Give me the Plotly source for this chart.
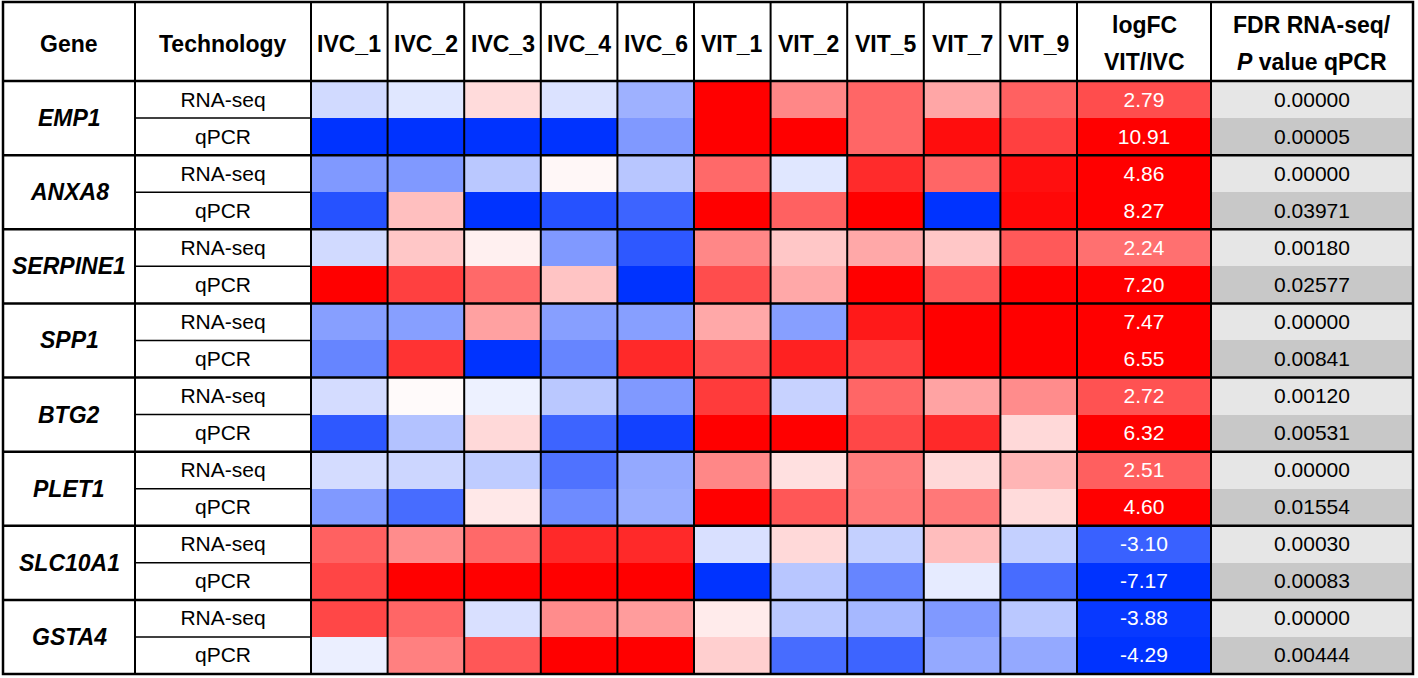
import plotly.graph_objects as go

# ---------------- data ----------------
genes = ["EMP1", "ANXA8", "SERPINE1", "SPP1", "BTG2", "PLET1", "SLC10A1", "GSTA4"]
technologies = ["RNA-seq", "qPCR"]
samples = ["IVC_1", "IVC_2", "IVC_3", "IVC_4", "IVC_6",
           "VIT_1", "VIT_2", "VIT_5", "VIT_7", "VIT_9"]

# relative (scaled) expression per sample, rows = [RNA-seq, qPCR]
EMP1 = [[-0.18, -0.12, 0.14, -0.14, -0.38, 1.00, 0.47, 0.60, 0.35, 0.62],
        [-1.00, -1.00, -1.00, -1.00, -0.50, 1.00, 1.00, 0.60, 0.95, 0.75]]
ANXA8 = [[-0.50, -0.50, -0.27, 0.03, -0.28, 0.59, -0.12, 0.83, 0.60, 0.94],
         [-0.85, 0.25, -1.00, -0.85, -0.76, 1.00, 0.62, 1.00, -1.00, 0.97]]
SERPINE1 = [[-0.18, 0.22, 0.06, -0.50, -0.82, 0.47, 0.22, 0.34, 0.22, 0.65],
            [1.00, 0.75, 0.59, 0.23, -1.00, 0.70, 0.34, 1.00, 0.66, 1.00]]
SPP1 = [[-0.47, -0.47, 0.37, -0.47, -0.47, 0.34, -0.47, 0.90, 1.00, 1.00],
        [-0.60, 0.80, -1.00, -0.60, 0.84, 0.69, 0.87, 0.75, 1.00, 1.00]]
BTG2 = [[-0.17, 0.02, -0.07, -0.27, -0.50, 0.77, -0.22, 0.60, 0.36, 0.45],
        [-0.82, -0.30, 0.15, -0.76, -0.93, 1.00, 1.00, 0.72, 0.84, 0.15]]
PLET1 = [[-0.17, -0.20, -0.25, -0.69, -0.42, 0.47, 0.12, 0.51, 0.15, 0.29],
         [-0.50, -0.72, 0.09, -0.57, -0.40, 1.00, 0.66, 0.53, 0.53, 0.14]]
SLC10A1 = [[0.62, 0.45, 0.59, 0.84, 0.84, -0.15, 0.15, -0.23, 0.26, -0.23],
           [0.73, 1.00, 1.00, 1.00, 1.00, -1.00, -0.28, -0.60, -0.10, -0.72]]
GSTA4 = [[0.72, 0.60, -0.15, 0.45, 0.39, 0.08, -0.27, -0.35, -0.50, -0.27],
         [-0.08, 0.50, 0.66, 1.00, 1.00, 0.19, -0.72, -0.76, -0.42, -0.42]]

logfc = [2.79, 10.91, 4.86, 8.27, 2.24, 7.20, 7.47, 6.55,
         2.72, 6.32, 2.51, 4.60, -3.10, -7.17, -3.88, -4.29]
fdr_p = [0.00000, 0.00005, 0.00000, 0.03971, 0.00180, 0.02577, 0.00000, 0.00841,
         0.00120, 0.00531, 0.00000, 0.01554, 0.00030, 0.00083, 0.00000, 0.00444]

# ---------------- derived ----------------
gene_blocks = [EMP1, ANXA8, SERPINE1, SPP1, BTG2, PLET1, SLC10A1, GSTA4]
z_samples = [row for block in gene_blocks for row in block]
n_rows = len(z_samples)
rows = list(range(n_rows))
tech_col = [technologies[i % 2] for i in rows]
tech_idx = [i % 2 for i in rows]

# ---------------- layout geometry (pixels) ----------------
W, H = 1418, 678
TOP, BOT = 81, 674
LEFT, RIGHT = 3, 1413
edges = {"gene": (3, 135), "tech": (135, 311), "samp": (311, 1077),
         "logfc": (1077, 1211), "fdr": (1211, 1413)}
plot_h = BOT - TOP


def dom(key):
    a, b = edges[key]
    return [a / W, b / W]


def py(pix):  # pixel y -> paper y
    return (BOT - pix) / plot_h


FONT = "Liberation Sans, Arial, sans-serif"
diverge = [[0, "#0033ff"], [0.5, "#ffffff"], [1, "#ff0000"]]

fig = go.Figure()

# Technology column
fig.add_trace(go.Heatmap(
    x=["Technology"], y=rows, z=[[0] for _ in rows],
    text=[[t] for t in tech_col], texttemplate="%{text}",
    textfont=dict(family=FONT, size=21, color="black"),
    colorscale=[[0, "white"], [1, "white"]], showscale=False,
    xaxis="x5", yaxis="y", hoverinfo="skip"))

# sample heatmap
fig.add_trace(go.Heatmap(
    x=samples, y=rows, z=z_samples, zmin=-1, zmax=1,
    colorscale=diverge, showscale=False, xaxis="x", yaxis="y"))

# logFC column
fig.add_trace(go.Heatmap(
    x=["logFC"], y=rows, z=[[v] for v in logfc], zmin=-4, zmax=4,
    text=[[f"{v:.2f}"] for v in logfc], texttemplate="%{text}",
    textfont=dict(family=FONT, size=21, color="white"),
    colorscale=diverge, showscale=False, xaxis="x2", yaxis="y"))

# FDR / P value column
fig.add_trace(go.Heatmap(
    x=["FDR"], y=rows, z=[[t] for t in tech_idx], zmin=0, zmax=1,
    text=[[f"{v:.5f}"] for v in fdr_p], texttemplate="%{text}",
    textfont=dict(family=FONT, size=21, color="black"),
    colorscale=[[0, "#e6e6e6"], [1, "#c8c8c8"]], showscale=False,
    xaxis="x3", yaxis="y"))

ax_common = dict(showgrid=False, zeroline=False, showticklabels=False,
                 ticks="", showline=False, anchor="y", fixedrange=True)
layout_axes = dict(
    xaxis=dict(domain=dom("samp"), type="category", range=[-0.5, len(samples) - 0.5], **ax_common),
    xaxis2=dict(domain=dom("logfc"), type="category", range=[-0.5, 0.5], **ax_common),
    xaxis3=dict(domain=dom("fdr"), type="category", range=[-0.5, 0.5], **ax_common),
    xaxis4=dict(domain=dom("gene"), range=[-0.5, 0.5], **ax_common),
    xaxis5=dict(domain=dom("tech"), type="category", range=[-0.5, 0.5], **ax_common),
    yaxis=dict(domain=[0, 1], range=[n_rows - 0.5, -0.5], showgrid=False, zeroline=False,
               showticklabels=False, ticks="", showline=False, fixedrange=True),
)

annotations = []
hdr_font = dict(family=FONT, size=23, color="black")
y_mid = 1 + (TOP - 44) / plot_h
annotations.append(dict(text="<b>Gene</b>", xref="x4 domain", x=0.5, yref="paper", y=y_mid,
                        showarrow=False, font=hdr_font, yanchor="middle"))
annotations.append(dict(text="<b>Technology</b>", xref="x5 domain", x=0.5, yref="paper", y=y_mid,
                        showarrow=False, font=hdr_font, yanchor="middle"))
for i, s in enumerate(samples):
    annotations.append(dict(text=f"<b>{s}</b>", xref="x", x=i, yref="paper", y=y_mid,
                            showarrow=False, font=hdr_font, yanchor="middle"))
for txt, xr, ypix in [("<b>logFC</b>", "x2 domain", 25), ("<b>VIT/IVC</b>", "x2 domain", 62),
                      ("<b>FDR RNA-seq/</b>", "x3 domain", 25),
                      ("<b><i>P</i> value qPCR</b>", "x3 domain", 62)]:
    annotations.append(dict(text=txt, xref=xr, x=0.5, yref="paper", y=1 + (TOP - ypix) / plot_h,
                            showarrow=False, font=hdr_font, yanchor="middle"))
for k, g in enumerate(genes):
    annotations.append(dict(text=f"<b><i>{g}</i></b>", xref="x4", x=0, yref="y", y=2 * k + 0.5,
                            showarrow=False, font=dict(family=FONT, size=23, color="black"),
                            yanchor="middle"))

shapes = []
y_top_paper = py(2)
line_k = dict(color="black", width=2)
# outer frame
shapes.append(dict(type="rect", xref="paper", yref="paper", x0=LEFT / W, x1=RIGHT / W,
                   y0=0, y1=y_top_paper, line=dict(color="black", width=2.5)))
# header bottom
shapes.append(dict(type="line", xref="paper", yref="paper", x0=LEFT / W, x1=RIGHT / W,
                   y0=1, y1=1, line=dict(color="black", width=2.5)))
# column boundaries
for key in ["tech", "samp", "logfc", "fdr"]:
    xp = edges[key][0] / W
    shapes.append(dict(type="line", xref="paper", yref="paper", x0=xp, x1=xp,
                       y0=0, y1=y_top_paper, line=line_k))
for i in range(1, len(samples)):
    shapes.append(dict(type="line", xref="x", yref="paper", x0=i - 0.5, x1=i - 0.5,
                       y0=0, y1=y_top_paper, line=line_k))
# gene block separators
for k in range(1, len(genes)):
    shapes.append(dict(type="line", xref="paper", yref="y", x0=LEFT / W, x1=RIGHT / W,
                       y0=2 * k - 0.5, y1=2 * k - 0.5, line=dict(color="black", width=2.5)))
# RNA-seq / qPCR separators in Technology column
for k in range(len(genes)):
    shapes.append(dict(type="line", xref="x5 domain", yref="y", x0=0, x1=1,
                       y0=2 * k + 0.5, y1=2 * k + 0.5, line=dict(color="black", width=1.5)))

fig.update_layout(
    width=W, height=H,
    margin=dict(l=0, r=0, t=TOP, b=H - BOT, pad=0),
    paper_bgcolor="white", plot_bgcolor="white",
    annotations=annotations, shapes=shapes, showlegend=False,
    **layout_axes,
)

fig.write_html("out.html", config={"displayModeBar": False},
               post_script="document.body.style.margin='0';")
